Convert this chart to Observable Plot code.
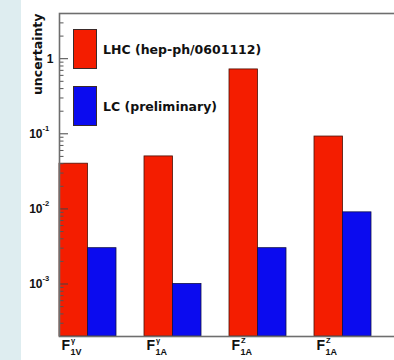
<!DOCTYPE html>
<html><head><meta charset="utf-8">
<script src="https://cdn.jsdelivr.net/npm/d3@7"></script>
<script src="https://cdn.jsdelivr.net/npm/@observablehq/plot@0.6"></script>
<style>
html,body{margin:0;padding:0;}
body{width:394px;height:360px;overflow:hidden;background:linear-gradient(to right,#deedf0 0,#deedf0 21px,#fff 21px);}
#wrap{position:relative;width:394px;height:360px;overflow:hidden;}
#wrap svg{display:block;max-width:none;}
#legend{position:absolute;left:73px;top:29px;font:bold 12.5px "DejaVu Sans",sans-serif;color:#111;}
.item{position:absolute;left:0;display:flex;align-items:center;}
.sw{width:24px;height:40px;box-sizing:border-box;border:1px solid #3a2a2a;}
.lab{margin-left:6px;white-space:nowrap;}
</style></head>
<body><div id="wrap"></div>
<script>
// categories
const groups = ["F1V_gamma", "F1A_gamma", "F1A_Z", "F1A_Z_b"];
const labelSup = ["\u03b3", "\u03b3", "Z", "Z"];
const labelSub = ["1V", "1A", "1A", "1A"];
// series
const seriesNames = ["LHC (hep-ph/0601112)", "LC (preliminary)"];
const seriesColors = ["#f41d00", "#0b0bef"];
const lhcValues = [0.04, 0.05, 0.72, 0.092];
const lcValues = [0.003, 0.001, 0.003, 0.009];
// y axis
const yDomain = [2e-4, 4];
const yLabel = "uncertainty";
const yTickValues = [1, 0.1, 0.01, 0.001];
const yTickBase = ["1", "10", "10", "10"];
const yTickExp = ["", "-1", "-2", "-3"];
const yMinorTicks = [];
for (let e = -4; e <= 0; e++) for (let k = 2; k <= 9; k++) {
  const v = k * Math.pow(10, e);
  if (v >= yDomain[0] && v <= yDomain[1]) yMinorTicks.push(v);
}

const lhc = groups.map((g, i) => ({g, v: lhcValues[i]}));
const lc = groups.map((g, i) => ({g, v: lcValues[i]}));
const xl = groups.map((g, i) => ({g, sup: labelSup[i], sub: labelSub[i]}));
const majors = yTickValues.map((v, i) => ({v, base: yTickBase[i], exp: yTickExp[i]}));

const band = 85, barW = 28.5;
const font = "Liberation Sans, Arial, sans-serif";

const plot = Plot.plot({
  width: 399, height: 360,
  marginLeft: 59, marginRight: 0, marginTop: 13, marginBottom: 24,
  style: {background: "transparent", fontFamily: font},
  x: {type: "band", domain: groups, padding: 0, axis: null},
  y: {type: "log", domain: yDomain, axis: null},
  marks: [
    Plot.barY(lhc, {x: "g", y1: yDomain[0], y2: "v", fill: seriesColors[0], stroke: "#4a1208", strokeWidth: 0.8, insetLeft: 0, insetRight: band - barW}),
    Plot.barY(lc, {x: "g", y1: yDomain[0], y2: "v", fill: seriesColors[1], stroke: "#10104a", strokeWidth: 0.8, insetLeft: barW, insetRight: band - 2 * barW}),
    Plot.tickY(yTickValues, {x: () => groups[0], y: d => d, stroke: "#444", strokeWidth: 1, insetRight: band - 9}),
    Plot.tickY(yMinorTicks, {x: () => groups[0], y: d => d, stroke: "#555", strokeWidth: 1, insetRight: band - 4.5}),
    Plot.frame({stroke: "#6e6e6e", strokeWidth: 1.6}),
    // y tick labels
    Plot.text(majors.filter(d => d.exp === ""), {y: "v", text: "base", frameAnchor: "left", textAnchor: "end", dx: -6, fontSize: 12, fontWeight: "bold", fill: "#111"}),
    Plot.text(majors.filter(d => d.exp !== ""), {y: "v", text: "base", frameAnchor: "left", textAnchor: "end", dx: -17, fontSize: 12, fontWeight: "bold", fill: "#111"}),
    Plot.text(majors.filter(d => d.exp !== ""), {y: "v", text: "exp", frameAnchor: "left", textAnchor: "start", dx: -17, dy: -5, fontSize: 7.5, fontWeight: "bold", fill: "#111"}),
    // y label
    Plot.text([yLabel], {text: d => d, frameAnchor: "top-left", rotate: -90, textAnchor: "end", dx: -26, fontSize: 12.5, fontWeight: "bold", fontFamily: "DejaVu Sans", fill: "#111"}),
    // x labels
    Plot.text(xl, {x: "g", text: () => "F", frameAnchor: "bottom", textAnchor: "start", dx: -40.5, dy: 13, fontSize: 14, fontWeight: "bold", fill: "#111"}),
    Plot.text(xl, {x: "g", text: "sup", frameAnchor: "bottom", textAnchor: "start", dx: -31, dy: 6.5, fontSize: 7.5, fontWeight: "bold", fill: "#111"}),
    Plot.text(xl, {x: "g", text: "sub", frameAnchor: "bottom", textAnchor: "start", dx: -31.5, dy: 18.5, fontSize: 9, fontWeight: "bold", fill: "#111"})
  ]
});

const wrap = document.getElementById("wrap");
wrap.appendChild(plot);
const legend = document.createElement("div");
legend.id = "legend";
seriesNames.forEach((name, i) => {
  const item = document.createElement("div");
  item.className = "item";
  item.style.top = (i * 57) + "px";
  const sw = document.createElement("div");
  sw.className = "sw";
  sw.style.background = seriesColors[i];
  const lab = document.createElement("span");
  lab.className = "lab";
  lab.textContent = name;
  item.appendChild(sw); item.appendChild(lab);
  legend.appendChild(item);
});
wrap.appendChild(legend);
</script>
</body></html>
